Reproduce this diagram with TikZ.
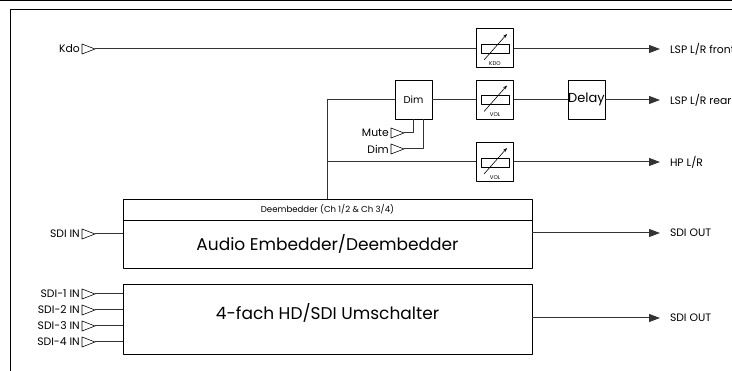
\documentclass[tikz,border=0pt]{standalone}
\usepackage{fontspec}
\setmainfont{Poppins}
\usetikzlibrary{arrows.meta}

% input port: name, x, y, text
\newcommand{\inport}[4]{%
  \draw[port] (#2,#3-5)--(#2+13,#3) coordinate (#1)--(#2,#3+5)--cycle;
  \node[lbl,anchor=east,inner sep=1pt] at (#2-1,#3) {#4};}
% fader box: name, x, y, text
\newcommand{\fader}[4]{%
  \node[box] (#1) at (#2,#3) {};
  \draw[line width=0.6pt] (#2-14,#3-4) rectangle (#2+14,#3+5);
  \draw[line width=0.6pt,-{Stealth[length=4pt,width=3pt]}] (#2-11,#3+12)--(#2+12,#3-14);
  \node[font=\fontsize{5.5}{6}\selectfont,inner sep=0pt] at (#2,#3+15.5) {#4};}

\begin{document}
\begin{tikzpicture}[x=1pt,y=-1pt,line join=round,
    sig/.style={draw=black!80,line width=1pt},
    outarrow/.style={sig,-{Triangle[length=11pt,width=8pt]}},
    port/.style={draw,line width=0.6pt,fill=white},
    lbl/.style={font=\fontsize{10.8}{11}\selectfont},
    outlbl/.style={lbl,anchor=west,inner sep=0pt,outer sep=10pt},
    box/.style={draw,line width=0.8pt,minimum width=37pt,minimum height=39pt,inner sep=0pt},
    bigbox/.style={draw,line width=0.8pt,minimum width=409pt,inner sep=0pt}]
\useasboundingbox (0,0) rectangle (732,371);
% frame
\draw[line width=1pt] (0,1)--(732,1);
\draw[line width=0.8pt] (732,9)--(10.5,9)--(10.5,371);

% Kdo row
\inport{kdo}{82}{49}{Kdo}
\fader{kdobox}{495}{48}{KDO}
\node[outlbl] (front) at (660,49) {LSP L/R front};
\draw[sig] (kdo)--(kdo -| kdobox.west);
\draw[outarrow] (kdobox.east |- front)--(front.west);

% rear row
\node[box,font=\fontsize{10}{11}\selectfont] (dim) at (413.5,99.5) {Dim};
\fader{vol1}{495}{99.5}{VOL}
\node[box,font=\fontsize{13}{14}\selectfont] (delay) at (586.5,99.5) {Delay};
\node[outlbl] (rear) at (660,100) {LSP L/R rear};
\draw[sig] (dim.east)--(vol1.west);
\draw[sig] (vol1.east)--(delay.west);
\draw[outarrow] (delay.east |- rear)--(rear.west);

% Mute / Dim control
\inport{mute}{391}{133}{Mute}
\inport{dimin}{391}{149}{Dim}
\draw[sig] (mute)-|(dim.south);
\draw[sig] (dimin)-|([xshift=9.5pt]dim.south);

% HP row
\fader{vol2}{495}{162}{VOL}
\node[outlbl] (hp) at (660,162) {HP L/R};
\draw[outarrow] (vol2.east |- hp)--(hp.west);

% Deembedder
\node[bigbox,minimum height=69pt] (deemb) at (327.5,233.5) {};
\draw[line width=0.6pt] (deemb.west |- 0,220)--(deemb.east |- 0,220);
\node[font=\fontsize{8.6}{9}\selectfont] at (327.5,209.5) {Deembedder (Ch 1/2 \& Ch 3/4)};
\node[font=\fontsize{17}{18}\selectfont] at (327.5,244) {Audio Embedder/Deembedder};
\draw[sig] (deemb.north)|-(dim.west);
\draw[sig] (deemb.north |- vol2)--(vol2.west);
\inport{sdiin}{82}{234}{SDI IN}
\node[outlbl] (sdiout) at (660,233) {SDI OUT};
\draw[sig] (sdiin)--(sdiin -| deemb.west);
\draw[outarrow] (deemb.east |- sdiout)--(sdiout.west);

% Umschalter
\node[bigbox,minimum height=70pt] (sw) at (327.5,319) {};
\node[font=\fontsize{17}{18}\selectfont] at (327.5,313) {4-fach HD/SDI Umschalter};
\foreach \i/\yy in {1/294,2/310,3/326,4/342}{
  \inport{sdi\i}{82}{\yy}{SDI-\i\ IN}
  \draw[sig] (sdi\i)--(sdi\i -| sw.west);
}
\node[outlbl] (swout) at (660,318) {SDI OUT};
\draw[outarrow] (sw.east |- swout)--(swout.west);
\end{tikzpicture}
\end{document}
